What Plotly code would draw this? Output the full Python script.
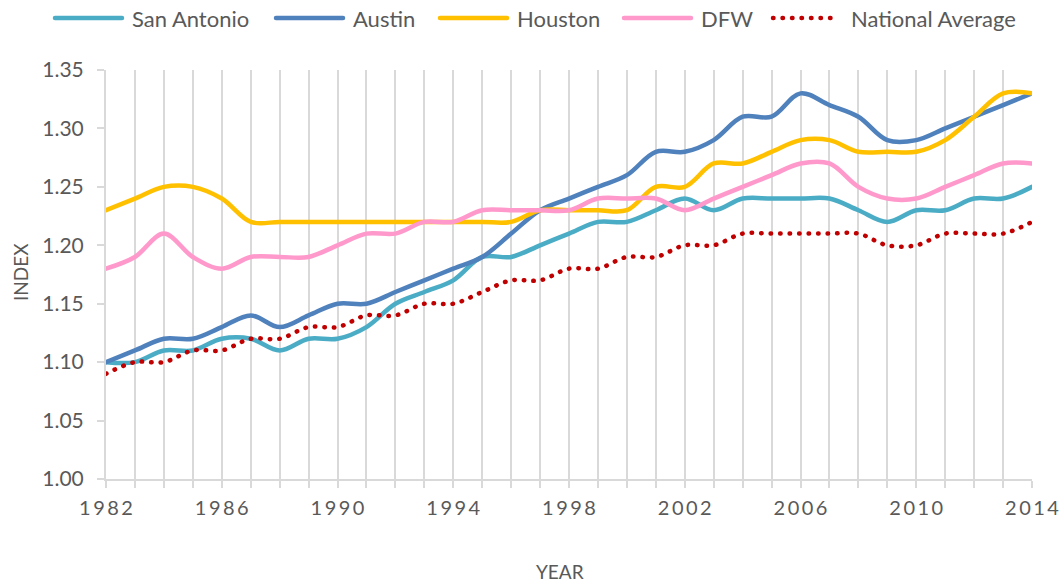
import plotly.graph_objects as go

years = list(range(1982, 2015))

san_antonio = [1.10, 1.10, 1.11, 1.11, 1.12, 1.12, 1.11, 1.12, 1.12, 1.13, 1.15, 1.16, 1.17,
               1.19, 1.19, 1.20, 1.21, 1.22, 1.22, 1.23, 1.24, 1.23, 1.24, 1.24, 1.24, 1.24,
               1.23, 1.22, 1.23, 1.23, 1.24, 1.24, 1.25]
austin = [1.10, 1.11, 1.12, 1.12, 1.13, 1.14, 1.13, 1.14, 1.15, 1.15, 1.16, 1.17, 1.18,
          1.19, 1.21, 1.23, 1.24, 1.25, 1.26, 1.28, 1.28, 1.29, 1.31, 1.31, 1.33, 1.32,
          1.31, 1.29, 1.29, 1.30, 1.31, 1.32, 1.33]
houston = [1.23, 1.24, 1.25, 1.25, 1.24, 1.22, 1.22, 1.22, 1.22, 1.22, 1.22, 1.22, 1.22,
           1.22, 1.22, 1.23, 1.23, 1.23, 1.23, 1.25, 1.25, 1.27, 1.27, 1.28, 1.29, 1.29,
           1.28, 1.28, 1.28, 1.29, 1.31, 1.33, 1.33]
dfw = [1.18, 1.19, 1.21, 1.19, 1.18, 1.19, 1.19, 1.19, 1.20, 1.21, 1.21, 1.22, 1.22,
       1.23, 1.23, 1.23, 1.23, 1.24, 1.24, 1.24, 1.23, 1.24, 1.25, 1.26, 1.27, 1.27,
       1.25, 1.24, 1.24, 1.25, 1.26, 1.27, 1.27]
national = [1.09, 1.10, 1.10, 1.11, 1.11, 1.12, 1.12, 1.13, 1.13, 1.14, 1.14, 1.15, 1.15,
            1.16, 1.17, 1.17, 1.18, 1.18, 1.19, 1.19, 1.20, 1.20, 1.21, 1.21, 1.21, 1.21,
            1.21, 1.20, 1.20, 1.21, 1.21, 1.21, 1.22]

series_names = ["San Antonio", "Austin", "Houston", "DFW", "National Average"]
series_values = [san_antonio, austin, houston, dfw, national]
series_colors = ["#4bacc6", "#4f81bd", "#ffc000", "#ff99cc", "#c00000"]
series_dash = ["solid", "solid", "solid", "solid", "0.5px,9px"]

y_ticks = [1.00, 1.05, 1.10, 1.15, 1.20, 1.25, 1.30, 1.35]
y_ticktext = ["1.00", "1.05", "1.10", "1.15", "1.20", "1.25", "1.30", "1.35"]
x_tick_labels = {1982: "1982", 1986: "1986", 1990: "1990", 1994: "1994",
                 1998: "1998", 2002: "2002", 2006: "2006", 2010: "2010", 2014: "2014"}

FONT = "Lato"
GRAY = "#595959"
GRID = "#d9d9d9"

# plot area geometry (pixels)
W, H = 1062, 584
L, R, T, B = 106, 1032, 70, 479

fig = go.Figure()
for name, vals, col, dash in zip(series_names, series_values, series_colors, series_dash):
    fig.add_trace(go.Scatter(
        x=years, y=vals, name=name, mode="lines",
        line=dict(color=col, width=4.5, shape="spline", smoothing=1.0, dash=dash),
        showlegend=False,
    ))

def spaced(s):
    return "\u2009".join(s)

xt_text = [spaced(x_tick_labels.get(y, "")) for y in years]

def px_x(p):
    return (p - L) / (R - L)

def px_y(p):
    return (B - p) / (B - T)

# manual legend (sample start, sample end, text start) in pixels
legend_samples = [(55, 122, 130), (276, 343, 351), (440, 507, 515), (624, 691, 699), (773, 832, 849)]
legend_y = 18
shapes = []
annotations = []
for (x0, x1, tx), name, col, dash in zip(legend_samples, series_names, series_colors, series_dash):
    shapes.append(dict(type="line", xref="paper", yref="paper",
                       x0=px_x(x0), x1=px_x(x1), y0=px_y(legend_y), y1=px_y(legend_y),
                       line=dict(color=col, width=4.5, dash=dash)))
    annotations.append(dict(xref="paper", yref="paper", x=px_x(tx), y=px_y(legend_y),
                            xanchor="left", yanchor="middle", showarrow=False,
                            text=name, font=dict(family=FONT, size=22, color=GRAY)))

# axis titles as annotations for exact placement
annotations.append(dict(xref="paper", yref="paper", x=px_x(560), y=px_y(571),
                        xanchor="center", yanchor="middle", showarrow=False,
                        text="YEAR", font=dict(family=FONT, size=19, color=GRAY)))
annotations.append(dict(xref="paper", yref="paper", x=px_x(20), y=px_y(272),
                        xanchor="center", yanchor="middle", showarrow=False, textangle=-90,
                        text="INDEX", font=dict(family=FONT, size=19, color=GRAY)))

fig.update_layout(
    width=W, height=H,
    margin=dict(l=L, r=W - R, t=T, b=H - B, autoexpand=False),
    paper_bgcolor="white", plot_bgcolor="white",
    font=dict(family=FONT, color=GRAY),
    shapes=shapes,
    annotations=annotations,
    xaxis=dict(
        range=[1982, 2014], automargin=False,
        tickmode="array", tickvals=years, ticktext=xt_text,
        ticks="outside", ticklen=7, tickcolor=GRID, tickwidth=2,
        showgrid=True, gridcolor=GRID, gridwidth=2,
        showline=True, linecolor=GRID, linewidth=2,
        zeroline=False, ticklabelstandoff=3,
        tickfont=dict(family=FONT, size=20, color=GRAY),
        fixedrange=True,
    ),
    yaxis=dict(
        range=[1.0, 1.35], automargin=False,
        tickmode="array", tickvals=y_ticks, ticktext=y_ticktext,
        ticks="outside", ticklen=7, tickcolor=GRID, tickwidth=2,
        showgrid=False, showline=True, linecolor=GRID, linewidth=2,
        zeroline=False, ticklabelstandoff=9,
        tickfont=dict(family=FONT, size=21, color=GRAY),
        fixedrange=True,
    ),
)

post = """
document.body.style.margin='0';
document.body.style.overflow='hidden';
function roundCaps(){
  document.querySelectorAll('.scatterlayer path.js-line, .shapelayer path').forEach(function(p){
    p.style.strokeLinecap='round';
  });
}
roundCaps();
setTimeout(roundCaps, 50);
setTimeout(roundCaps, 300);
"""

fig.write_html("out.html", config={"displayModeBar": False}, post_script=post)
